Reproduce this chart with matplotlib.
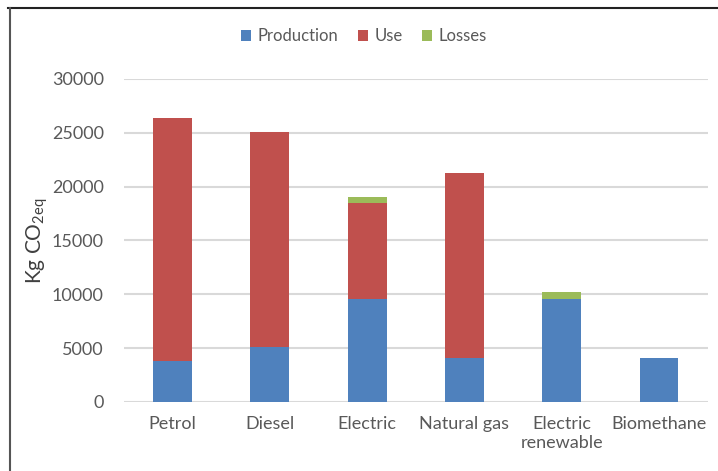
import matplotlib
matplotlib.use("Agg")
import matplotlib.pyplot as plt
from matplotlib.lines import Line2D
import numpy as np

categories = ["Petrol", "Diesel", "Electric", "Natural gas", "Electric\nrenewable", "Biomethane"]
production = [3800, 5080, 9560, 4110, 9560, 4110]
use = [22540, 19960, 8890, 17150, 0, 0]
losses = [0, 0, 610, 0, 620, 0]
series_names = ["Production", "Use", "Losses"]
colors = ["#4F81BD", "#C0504D", "#9BBB59"]
yticks = [0, 5000, 10000, 15000, 20000, 25000, 30000]

plt.rcParams['font.family'] = ['Lato', 'DejaVu Sans']

fig = plt.figure(figsize=(7.18, 4.71), dpi=100)
ax = fig.add_axes([0.1727, 0.1465, 0.8128, 0.6858])

x = np.arange(len(categories))
prod = np.array(production)
u = np.array(use)
l = np.array(losses)
w = 0.4
ax.bar(x, prod, w, color=colors[0], label=series_names[0], zorder=3)
ax.bar(x, u, w, bottom=prod, color=colors[1], label=series_names[1], zorder=3)
ax.bar(x, l, w, bottom=prod + u, color=colors[2], label=series_names[2], zorder=3)

ax.set_xlim(-0.5, len(categories) - 0.5)
ax.set_ylim(0, 30000)
ax.set_yticks(yticks)
ax.set_yticklabels([str(v) for v in yticks])
ax.set_xticks(x)
ax.set_xticklabels(categories, linespacing=1.25)
ax.tick_params(axis='both', length=0, colors='#595959', labelsize=13)
ax.tick_params(axis='y', pad=14.5)
ax.tick_params(axis='x', pad=10)
ax.yaxis.grid(True, color='#D9D9D9', linewidth=1.5, zorder=0)
ax.set_axisbelow(True)
for s in ax.spines.values():
    s.set_visible(False)

ax.set_ylabel(r"Kg CO$_{\mathregular{2eq}}$", fontsize=15, color='#404040', labelpad=1)

leg = fig.legend(loc='center', bbox_to_anchor=(0.507, 0.923), ncol=3, frameon=False,
                 fontsize=12, handlelength=0.6, handleheight=0.6, handletextpad=0.4,
                 columnspacing=1.15, labelcolor='#595959')

fig.add_artist(Line2D([8/718, 1.0], [1 - 8/471, 1 - 8/471], color='#222222', linewidth=1.5))
fig.add_artist(Line2D([10/718, 10/718], [0, 1 - 8/471], color='#555555', linewidth=1.5))

fig.savefig("out.png", dpi=100)
